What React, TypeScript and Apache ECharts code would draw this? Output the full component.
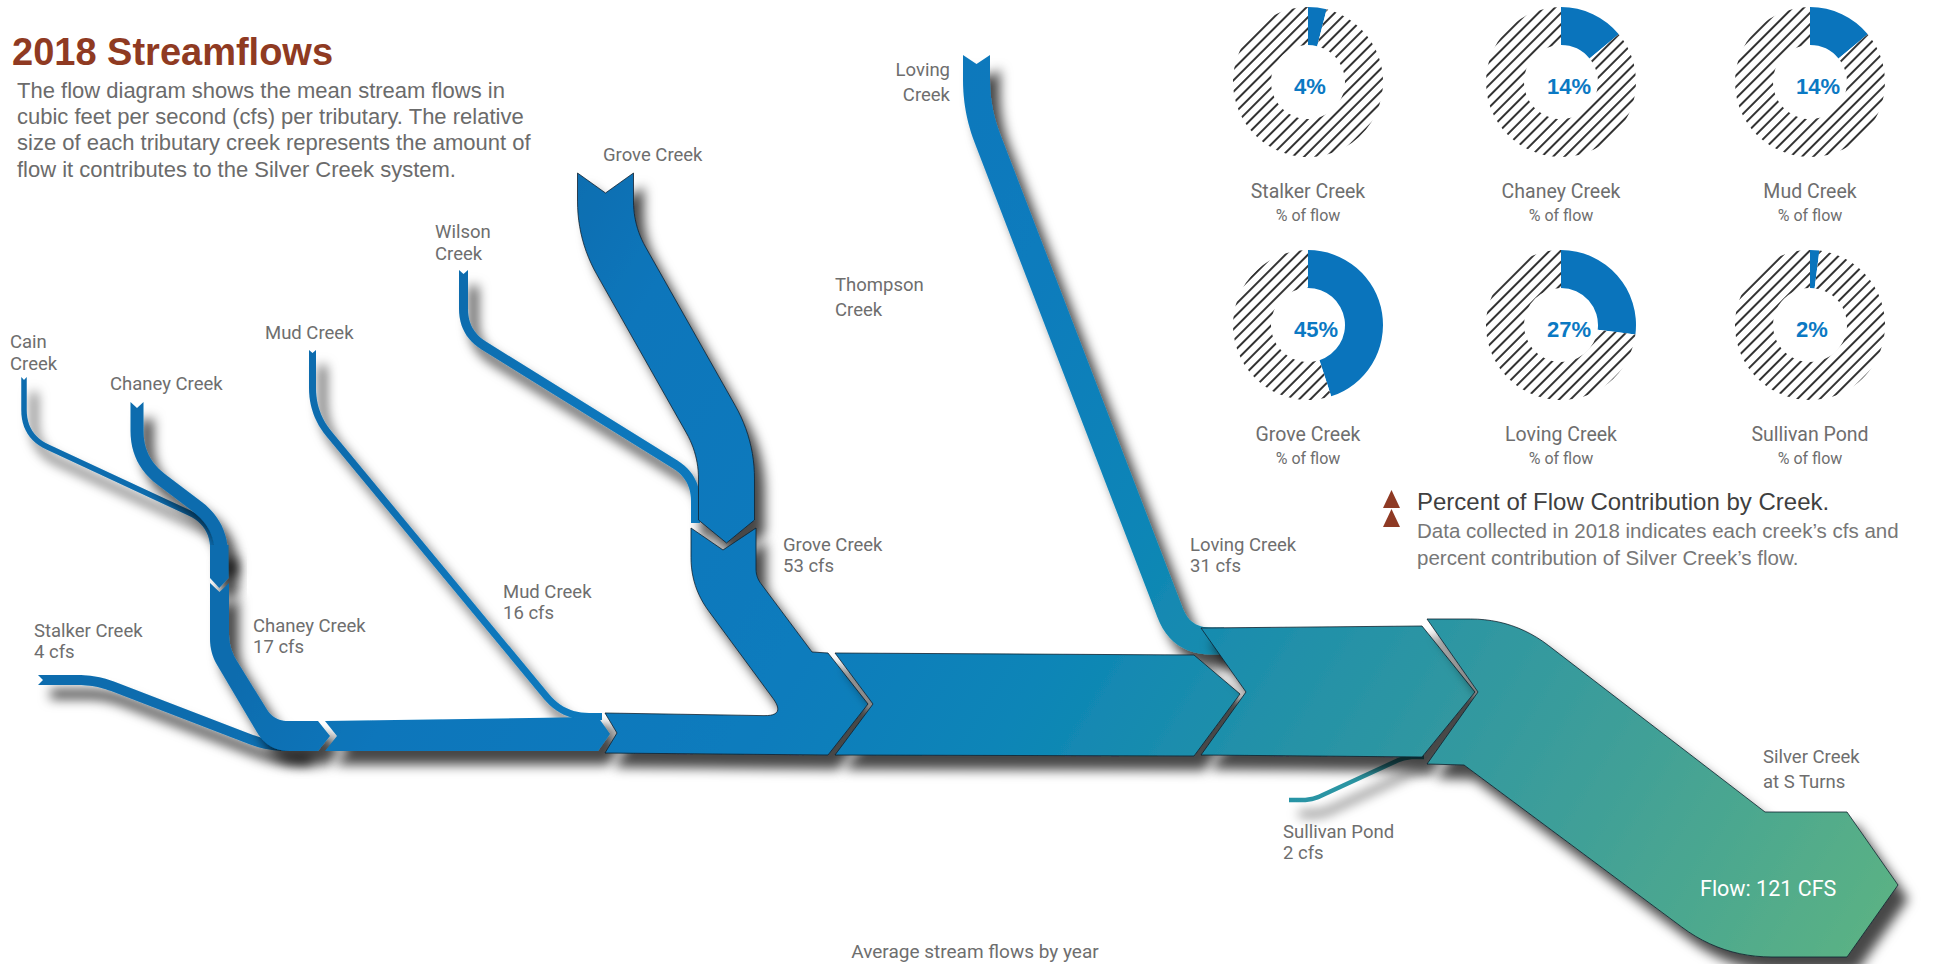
import React, { useEffect, useRef } from 'react';
import * as echarts from 'echarts';

// ---------------- data ----------------
const creekNames = ['Stalker Creek', 'Chaney Creek', 'Mud Creek', 'Grove Creek', 'Loving Creek', 'Sullivan Pond'];
const creekCfs = [4, 17, 16, 53, 31, 2];
const percentOfFlow = [4, 14, 14, 45, 27, 2];
const headwaterNames = ['Cain\nCreek', 'Chaney Creek', 'Mud Creek', 'Wilson\nCreek', 'Grove Creek', 'Loving\nCreek', 'Thompson\nCreek'];
const outletName = 'Silver Creek\nat S Turns';
const totalFlowCfs = 121;

// ---------------- layout (page units, mapped through hidden value axes) ----------------
const W = 1934;
const H = 964;
const FONT_LABEL = 'Roboto, "Noto Sans", sans-serif';
const FONT_BODY = '"Liberation Sans", Arial, Helvetica, sans-serif';

type Stream = { pts: number[][]; w: number; r: number; notch?: number; tip?: number; stroke?: boolean };
type Piece = { pts: number[][]; stroke?: boolean };

const STREAMS: Record<string, Stream> = {
  cain: { pts: [[24, 377], [24, 436], [213, 524], [213, 562]], w: 5.5, r: 26, notch: 3 },
  chaneyUp: { pts: [[137, 402], [137, 461], [221.5, 525], [221.5, 562]], w: 13, r: 30, notch: 6 },
  stalker: { pts: [[38, 680], [96, 680], [268, 746], [302, 746]], w: 10, r: 18, notch: 5 },
  mud: { pts: [[312.5, 350], [312.5, 414], [563, 716.5], [602, 716.5]], w: 7, r: 26, notch: 3 },
  wilson: { pts: [[463.5, 270], [463.5, 333], [695.5, 477], [695.5, 523]], w: 9, r: 24, notch: 4 },
  grove: { pts: [[605.5, 173], [605.5, 233], [726.5, 447], [726.5, 520]], w: 56, r: 32, notch: 20, tip: 23, stroke: true },
  loving: { pts: [[976.5, 55], [976.5, 110], [1181, 641], [1224, 641]], w: 27, r: 30, notch: 9 },
  sullivan: { pts: [[1289, 800], [1312, 800], [1405, 757], [1424, 757]], w: 4.5, r: 10 },
};

const PIECES: Record<string, Piece> = {
  chaneyMid: { pts: [[210, 545, 0], [228.5, 545, 0], [228.5, 578, 0], [219.25, 588, 0], [210, 578, 0]] },
  chaneyLow: { pts: [[210, 583, 0], [219.5, 592, 0], [229, 583, 0], [229, 648, 14], [274, 721, 14], [318, 721, 0], [330, 736, 0], [318, 751, 0], [268, 751, 22], [210, 653, 14]] },
  seg2: { pts: [[325, 721, 0], [598, 717, 0], [610, 734, 0], [598, 751, 0], [325, 751, 0], [337, 736, 0]] },
  groveLow: { pts: [[605, 713, 0], [786, 716, 22], [691, 587, 40], [691, 528, 0], [723, 550, 0], [756, 528, 0], [756, 577, 8], [812, 652, 0], [828, 653, 0], [868, 704, 0], [828, 755, 0], [605, 753, 0], [617, 733, 0]], stroke: true },
  seg4: { pts: [[835, 653, 0], [1194, 655, 0], [1240, 694, 0], [1194, 756, 0], [835, 755, 0], [873, 704, 0]], stroke: true },
  seg5: { pts: [[1201, 628, 0], [1422, 626, 0], [1475, 692, 0], [1422, 757, 0], [1201, 755, 0], [1246, 692, 0]], stroke: true },
  outlet: { pts: [[1427, 619, 0], [1514, 619, 60], [1765, 812, 0], [1847, 812, 0], [1898, 885, 0], [1847, 957, 0], [1722, 957, 50], [1464, 765, 0], [1427, 764, 0], [1478, 692, 0]], stroke: true },
};

const DRAW_ORDER = ['cain', 'chaneyUp', 'chaneyMid', 'stalker', 'mud', 'wilson', 'grove', 'loving', 'sullivan', 'chaneyLow', 'seg2', 'groveLow', 'seg4', 'seg5', 'outlet'];

const HEADWATER_POS = [[10, 342], [110, 384], [265, 333], [435, 232], [603, 155], [950, 70], [835, 285]];
const HEADWATER_LH = [22, 22, 22, 22, 22, 25, 25];
const FLOW_LABEL_POS = [[34, 631], [253, 626], [503, 592], [783, 545], [1190, 545], [1283, 832]];
const DONUT_X = [1308, 1561, 1810];
const DONUT_Y = [82, 325];

// ---------------- geometry helpers ----------------
function fillet(points: number[][], radii: number[], closed: boolean): number[][] {
  const n = points.length;
  const out: number[][] = [];
  for (let i = 0; i < n; i++) {
    const p = points[i];
    const r = radii[i] || 0;
    const hasPrev = closed || i > 0;
    const hasNext = closed || i < n - 1;
    if (!r || !hasPrev || !hasNext) {
      out.push([p[0], p[1]]);
      continue;
    }
    const a = points[(i - 1 + n) % n];
    const b = points[(i + 1) % n];
    const la = Math.hypot(a[0] - p[0], a[1] - p[1]);
    const lb = Math.hypot(b[0] - p[0], b[1] - p[1]);
    const fa = !closed && i - 1 === 0 ? 0.9 : 0.5;
    const fb = !closed && i + 1 === n - 1 ? 0.9 : 0.5;
    const t = Math.min(r, la * fa, lb * fb);
    const q1 = [p[0] + ((a[0] - p[0]) / la) * t, p[1] + ((a[1] - p[1]) / la) * t];
    const q2 = [p[0] + ((b[0] - p[0]) / lb) * t, p[1] + ((b[1] - p[1]) / lb) * t];
    for (let k = 0; k <= 12; k++) {
      const s = k / 12;
      const u = 1 - s;
      out.push([u * u * q1[0] + 2 * u * s * p[0] + s * s * q2[0], u * u * q1[1] + 2 * u * s * p[1] + s * s * q2[1]]);
    }
  }
  return out;
}

function streamPolygon(s: Stream): number[][] {
  const radii = s.pts.map((_, i) => (i === 0 || i === s.pts.length - 1 ? 0 : s.r));
  const c = fillet(s.pts, radii, false);
  const h = s.w / 2;
  const L: number[][] = [];
  const R: number[][] = [];
  for (let i = 0; i < c.length; i++) {
    const p0 = c[Math.max(0, i - 1)];
    const p1 = c[Math.min(c.length - 1, i + 1)];
    let dx = p1[0] - p0[0];
    let dy = p1[1] - p0[1];
    const l = Math.hypot(dx, dy) || 1;
    dx /= l;
    dy /= l;
    L.push([c[i][0] + dy * h, c[i][1] - dx * h]);
    R.push([c[i][0] - dy * h, c[i][1] + dx * h]);
  }
  const n = c.length;
  const sd = [c[1][0] - c[0][0], c[1][1] - c[0][1]];
  const sl = Math.hypot(sd[0], sd[1]) || 1;
  const ed = [c[n - 1][0] - c[n - 2][0], c[n - 1][1] - c[n - 2][1]];
  const el = Math.hypot(ed[0], ed[1]) || 1;
  const poly: number[][] = [...L];
  if (s.tip) poly.push([c[n - 1][0] + (ed[0] / el) * s.tip, c[n - 1][1] + (ed[1] / el) * s.tip]);
  poly.push(...R.reverse());
  if (s.notch) poly.push([c[0][0] + (sd[0] / sl) * s.notch, c[0][1] + (sd[1] / sl) * s.notch]);
  return poly;
}

function piecePolygon(p: Piece): number[][] {
  return fillet(p.pts.map((q) => [q[0], q[1]]), p.pts.map((q) => q[2] || 0), true);
}

const SHAPES = DRAW_ORDER.map((key) => {
  if (STREAMS[key]) return { poly: streamPolygon(STREAMS[key]), stroke: !!STREAMS[key].stroke };
  return { poly: piecePolygon(PIECES[key]), stroke: !!PIECES[key].stroke };
});

// ---------------- component ----------------
export default function App() {
  const ref = useRef<HTMLDivElement>(null);

  useEffect(() => {
    if (!ref.current) return;
    const chart = echarts.init(ref.current, undefined, { renderer: 'svg' });

    const flowFill = new echarts.graphic.LinearGradient(
      560, 150, 1850, 950,
      [
        { offset: 0, color: '#0a6cae' },
        { offset: 0.1, color: '#0a76bb' },
        { offset: 0.3, color: '#0a7bbd' },
        { offset: 0.45, color: '#0b85b7' },
        { offset: 0.6, color: '#2391a8' },
        { offset: 0.8, color: '#3f9f98' },
        { offset: 1, color: '#5ab185' },
      ],
      true
    );

    const graphics: any[] = [];
    const txt = (text: string, x: number, y: number, o: any = {}) => {
      graphics.push({
        type: 'text',
        x,
        y,
        z: 100,
        silent: true,
        style: {
          text,
          fontFamily: o.fontFamily || FONT_LABEL,
          fontSize: o.fontSize || 18.5,
          fontWeight: o.fontWeight || 'normal',
          fill: o.fill || '#6e6e6e',
          align: o.align || 'left',
          verticalAlign: o.verticalAlign || 'middle',
          lineHeight: o.lineHeight,
        },
      });
    };

    // title + description
    txt('2018 Streamflows', 12, 52, { fontFamily: FONT_BODY, fontSize: 38, fontWeight: 'bold', fill: '#8f3a22' });
    txt(
      'The flow diagram shows the mean stream flows in\ncubic feet per second (cfs) per tributary. The relative\nsize of each tributary creek represents the amount of\nflow it contributes to the Silver Creek system.',
      17, 90 - 13,
      { fontFamily: FONT_BODY, fontSize: 22, fill: '#6b6b6b', verticalAlign: 'top', lineHeight: 26.3 }
    );

    // headwater labels
    headwaterNames.forEach((name, i) => {
      const [x, y] = HEADWATER_POS[i];
      const lh = HEADWATER_LH[i];
      txt(name, x, y - lh / 2, { verticalAlign: 'top', lineHeight: lh, align: i === 5 ? 'right' : 'left' });
    });
    // flow labels
    creekNames.forEach((name, i) => {
      const [x, y] = FLOW_LABEL_POS[i];
      txt(`${name}\n${creekCfs[i]} cfs`, x, y - 11, { verticalAlign: 'top', lineHeight: 21.5 });
    });
    txt(outletName, 1763, 757 - 12.5, { verticalAlign: 'top', lineHeight: 25 });
    txt(`Flow: ${totalFlowCfs} CFS`, 1700, 888, { fontSize: 21.5, fill: '#ffffff' });

    // donut captions + percentages
    creekNames.forEach((name, i) => {
      const cx = DONUT_X[i % 3];
      const cy = DONUT_Y[Math.floor(i / 3)];
      txt(name, cx, cy + 109, { align: 'center', fontSize: 19.5 });
      txt('% of flow', cx, cy + 133, { align: 'center', fontSize: 16 });
      txt(`${percentOfFlow[i]}%`, cx - 14, cy + 4, { fontFamily: FONT_BODY, fontSize: 22, fontWeight: 'bold', fill: '#0b79c3' });
    });

    // legend note
    graphics.push({ type: 'polygon', z: 100, silent: true, shape: { points: [[1383, 508], [1391.5, 490], [1400, 508]] }, style: { fill: '#8e3a24' } });
    graphics.push({ type: 'polygon', z: 100, silent: true, shape: { points: [[1383, 527], [1391.5, 509], [1400, 527]] }, style: { fill: '#8e3a24' } });
    txt('Percent of Flow Contribution by Creek.', 1417, 501, { fontFamily: FONT_BODY, fontSize: 24, fill: '#3f3f3f' });
    txt(
      'Data collected in 2018 indicates each creek\u2019s cfs and\npercent contribution of Silver Creek\u2019s flow.',
      1417, 530 - 13.5,
      { fontFamily: FONT_BODY, fontSize: 20.5, fill: '#777777', verticalAlign: 'top', lineHeight: 27 }
    );

    txt('Average stream flows by year', 975, 942, { align: 'center', verticalAlign: 'top', fontSize: 19 });

    const pies = creekNames.map((name, i) => ({
      type: 'pie',
      center: [DONUT_X[i % 3], DONUT_Y[Math.floor(i / 3)]],
      radius: [37, 75],
      startAngle: 90,
      clockwise: true,
      silent: true,
      z: 3,
      label: { show: false },
      labelLine: { show: false },
      emphasis: { disabled: true },
      data: [
        { value: percentOfFlow[i], name, itemStyle: { color: '#0a74bc' } },
        {
          value: 100 - percentOfFlow[i],
          name: 'other',
          itemStyle: {
            color: '#ffffff',
            decal: {
              symbol: 'rect',
              symbolSize: 1,
              color: '#333333',
              backgroundColor: '#ffffff',
              dashArrayX: [1, 0],
              dashArrayY: [1.1, 6],
              rotation: -Math.PI / 4,
            },
          },
        },
      ],
    }));

    const option: any = {
      animation: false,
      backgroundColor: '#ffffff',
      grid: { left: 0, top: 0, right: 0, bottom: 0 },
      xAxis: { type: 'value', min: 0, max: W, show: false },
      yAxis: { type: 'value', min: 0, max: H, inverse: true, show: false },
      graphic: graphics,
      series: [
        {
          type: 'custom',
          coordinateSystem: 'cartesian2d',
          silent: true,
          z: 2,
          data: SHAPES.map((_, i) => [i, 0]),
          renderItem: (params: any, api: any) => {
            const shape = SHAPES[api.value(0)];
            const points = shape.poly.map((p) => api.coord(p));
            return {
              type: 'polygon',
              shape: { points },
              style: {
                fill: flowFill,
                stroke: shape.stroke ? 'rgba(12,28,40,0.85)' : null,
                lineWidth: shape.stroke ? 0.9 : 0,
                shadowBlur: 12,
                shadowColor: 'rgba(0,0,0,0.72)',
                shadowOffsetX: 10,
                shadowOffsetY: 14,
              },
            };
          },
        },
        ...pies,
      ],
    };

    chart.setOption(option);
    return () => chart.dispose();
  }, []);

  return <div ref={ref} style={{ position: 'fixed', left: 0, top: 0, width: W, height: H, background: '#fff' }} />;
}
